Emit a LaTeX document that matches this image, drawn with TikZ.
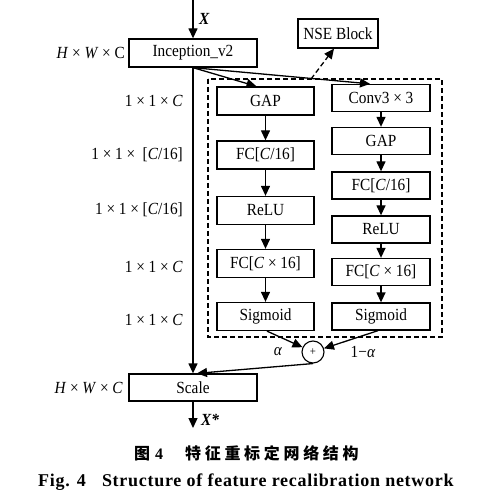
\documentclass[tikz,border=0pt]{standalone}
\usepackage{fontspec}
\setmainfont{Liberation Serif}
\newfontfamily\diag{Liberation Serif}[FakeStretch=0.9]
\newfontfamily\cjk{Noto Sans CJK SC}
\usetikzlibrary{arrows.meta}

\begin{document}
\begin{tikzpicture}[x=1pt, y=-1pt,
  tekst/.style={font=\diag\fontsize{17}{20}\selectfont},
  boks/.style={tekst, draw, line width=1.3pt, inner sep=0pt, minimum height=27pt},
  pil/.style={line width=1.3pt, -{Triangle[length=10pt,width=9pt]}},
  dimtekst/.style={tekst, anchor=east, inner sep=0pt},
  uttekst/.style={anchor=west, inner sep=0pt, font=\diag\fontsize{17}{20}\selectfont\bfseries\itshape}]
  \useasboundingbox (0,0) rectangle (487,502);

  % parametre
  \def\ganger{\hspace{0.22em}×\hspace{0.22em}}
  \def\C{\textit{C}}

  % hovedgren
  \node[boks, minimum width=128pt, minimum height=28pt] (inc) at (193,53) {Inception\_v2};
  \node[boks, minimum width=128pt] (scale) at (193,387.5) {Scale};
  \coordinate (inn) at (193,0);
  \coordinate (ut) at (193,428);
  \node[uttekst] (xinn) at (199,19) {X};
  \node[uttekst] (xut) at (201,420) {X*};
  \draw[pil] (inn) -- (inc);
  \draw[pil] (inc) -- (scale);
  \draw[pil] (scale) -- (ut);

  % NSE-blokk
  \node[boks, minimum width=80pt, minimum height=29pt] (nse) at (338,33.5) {NSE Block};
  \draw[line width=1.3pt, dash pattern=on 5pt off 3pt] (208,79) rectangle (442,337);
  \coordinate (nsefot) at (311,79);
  \draw[pil, dash pattern=on 5pt off 3pt] (nsefot) -- ([xshift=-4pt]nse.south);

  % venstre kolonne
  \foreach \navn/\y/\tekst in {L1/101/GAP, L2/155/{FC[\C/16]}, L3/210.5/ReLU,
      L4/263.5/{FC[\C\ganger16]}, L5/316.5/Sigmoid}
    \node[boks, minimum width=97pt, minimum height=28pt] (\navn) at (265.5,\y) {\tekst};

  % høyre kolonne
  \foreach \navn/\y/\tekst in {R1/98/{Conv3\ganger3}, R2/141/GAP, R3/185.5/{FC[\C/16]},
      R4/229.5/ReLU, R5/272/{FC[\C\ganger16]}, R6/316.5/Sigmoid}
    \node[boks, minimum width=98pt] (\navn) at (381,\y) {\tekst};

  % piler
  \draw[pil] (inc.south) -- ([xshift=-9pt]L1.north);
  \draw[pil] (inc.south) -- ([xshift=-11pt]R1.north);
  \foreach \a/\b in {L1/L2, L2/L3, L3/L4, L4/L5, R1/R2, R2/R3, R3/R4, R4/R5, R5/R6}
    \draw[pil] (\a) -- (\b);

  % vektet sum
  \node[draw, circle, line width=1.1pt, minimum size=22pt, inner sep=0pt,
    font=\diag\fontsize{12}{12}\selectfont] (pluss) at (313,352) {+};
  \draw[pil] ([xshift=1.5pt]L5.south) -- (pluss);
  \draw[pil] ([xshift=-3pt]R6.south) -- (pluss);
  \draw[pil] (pluss.south) -- ([xshift=4pt]scale.north);
  \node[tekst] (alfa) at (278,352) {\textit{α}};
  \node[tekst] (enminus) at (363,352) {1−\textit{α}};

  % dimensjoner
  \foreach \y/\tekst [count=\i] in {101/{1\ganger1\ganger\C}, 155/{1\ganger1\ganger\ [\C/16]},
      210/{1\ganger1\ganger[\C/16]}, 267/{1\ganger1\ganger\C}, 320/{1\ganger1\ganger\C}}
    \node[dimtekst] (d\i) at (183,\y) {\tekst};
  \node[dimtekst] (dinc) at (125,53) {\textit{H}\ganger\textit{W}\ganger C};
  \node[dimtekst] (dscale) at (123,388) {\textit{H}\ganger\textit{W}\ganger\C};

  % figurtekst
  \node[anchor=base west, inner sep=0pt, font=\fontsize{16}{18}\selectfont] (figzh) at (134,459.5)
    {{\cjk\bfseries 图}\hspace{5pt}{\bfseries 4}\hspace{22pt}{\cjk\bfseries\addfontfeatures{LetterSpace=23}特征重标定网络结构}};
  \node[anchor=base west, inner sep=0pt, font=\fontsize{18}{20}\selectfont\bfseries] (figen) at (38,486)
    {\addfontfeatures{LetterSpace=4}Fig. 4\hspace{0.9em}Structure of feature recalibration network};
\end{tikzpicture}
\end{document}
